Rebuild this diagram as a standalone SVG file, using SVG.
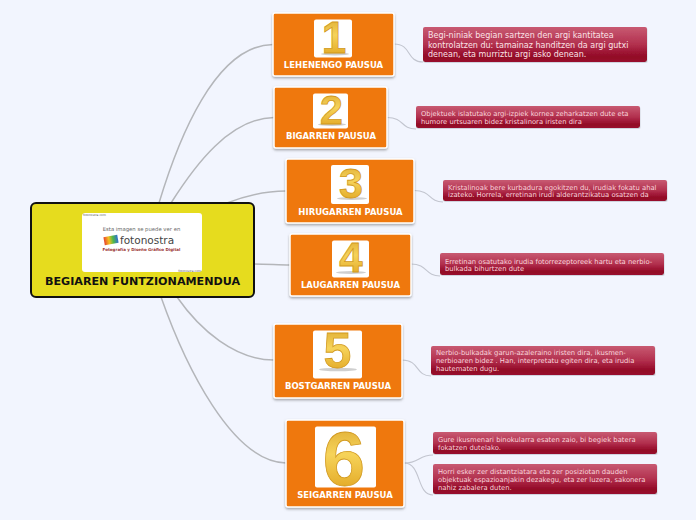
<svg xmlns="http://www.w3.org/2000/svg" width="696" height="520" viewBox="0 0 696 520">
<style>
text{font-family:"DejaVu Sans",Verdana,sans-serif}
.c{fill:none;stroke:#b4b6ba;stroke-width:1.5}
.d{fill:none;stroke:#c2c5cf;stroke-width:1.1}
.o{fill:#ef780e;stroke:#fff;stroke-width:1.5;filter:url(#s)}
.w{fill:#fff}
.t{fill:#fff;font-size:8.500px;font-weight:bold;text-anchor:middle}
.g{fill:url(#gold);stroke:#d29a20;stroke-width:.8;font-family:"Liberation Sans",sans-serif;font-weight:bold;text-anchor:middle}
.h{fill:#a8a8a8;opacity:.55}
.l{fill:url(#red);filter:url(#s2)}
.x{fill:#f9d5dc;font-size:6.800px}
.y{fill:#fbe3e7;font-size:8px}
</style>
<defs>
<linearGradient id="red" x1="0" y1="0" x2="0" y2="1"><stop offset="0" stop-color="#c85a72"/><stop offset=".5" stop-color="#b2304e"/><stop offset=".85" stop-color="#920725"/><stop offset="1" stop-color="#98102e"/></linearGradient>
<linearGradient id="gold" x1="0" y1="0" x2="0" y2="1"><stop offset="0" stop-color="#d9a32a"/><stop offset=".45" stop-color="#f6d35a"/><stop offset=".8" stop-color="#e6b02e"/><stop offset="1" stop-color="#bd8314"/></linearGradient>
<linearGradient id="logo" x1="0" y1="0" x2="1" y2="0"><stop offset="0" stop-color="#e8432c"/><stop offset=".35" stop-color="#f4c020"/><stop offset=".65" stop-color="#50b848"/><stop offset="1" stop-color="#3070d0"/></linearGradient>
<filter id="s" x="-10%" y="-10%" width="120%" height="120%"><feDropShadow dx="0" dy="1.500" stdDeviation="1" flood-color="#555" flood-opacity=".5"/></filter>
<filter id="s2" x="-5%" y="-10%" width="110%" height="125%"><feDropShadow dx="0.500" dy="1" stdDeviation=".4" flood-color="#b8bcc8" flood-opacity=".6"/></filter>
</defs>
<rect width="696" height="520" fill="#f2f5fe"/>
<g id="connectors">
<path class="c" d="M159 203C178 140 215 45 273 44.500"/>
<path class="c" d="M171 203C195 165 230 118 274 117.500"/>
<path class="c" d="M227 203C245 196 265 191 286 191"/>
<path class="c" d="M254 264C268 264 278 265 290 265"/>
<path class="c" d="M177 297C200 330 235 360 274 360"/>
<path class="c" d="M161 297C185 365 232 462 286 463"/>
<path class="d" d="M394 44C412 44 406 62 423 62"/>
<path class="d" d="M387 117.500C405 117.500 400 129 416 129"/>
<path class="d" d="M414 190.500C432 190.500 428 202 443 202"/>
<path class="d" d="M411 264C428 264 425 276 440 276"/>
<path class="d" d="M402 360C420 360 415 376 431 376"/>
<path class="d" d="M404 463C420 463 418 455 433 455"/>
<path class="d" d="M404 463C422 463 416 495 433 495"/>
</g>
<g id="central">
<rect x="31" y="203" width="223" height="94" rx="5" fill="#e6dc1e" stroke="#111" stroke-width="2"/>
<rect x="82" y="213" width="120" height="59" rx="3" class="w"/>
<text x="83" y="215.500" font-size="3" fill="#555">fotonostra.com</text>
<text x="141.500" y="231" font-size="5.300" fill="#666" text-anchor="middle">Esta imagen se puede ver en</text>
<rect x="104" y="236" width="14" height="8" fill="url(#logo)" transform="rotate(-10 111 240)"/>
<text x="120" y="244" font-size="10.500" fill="#444">fotonostra</text>
<text x="141.500" y="251" font-size="4" fill="#933" text-anchor="middle" font-weight="bold">Fotografía y Diseño Gráfico Digital</text>
<text x="201" y="271.500" font-size="3" fill="#555" text-anchor="end">fotonostra.com</text>
<text x="142.500" y="285" font-size="11.150" font-weight="bold" fill="#111" text-anchor="middle">BEGIAREN FUNTZIONAMENDUA</text>
</g>
<g id="n1">
<rect x="273" y="13" width="121" height="63" rx="2" class="o"/>
<rect x="314" y="19.500" width="38" height="38" rx="2" class="w"/>
<ellipse class="h" cx="335" cy="54" rx="14" ry="1.500"/>
<text class="g" x="334" y="53" font-size="44">1</text>
<text class="t" x="333.500" y="68">LEHENENGO PAUSUA</text>
</g>
<g id="n2">
<rect x="274" y="87" width="113" height="61" rx="2" class="o"/>
<rect x="313" y="93.500" width="35" height="35" rx="2" class="w"/>
<ellipse class="h" cx="332" cy="124.500" rx="14" ry="1.500"/>
<text class="g" x="331.500" y="124" font-size="41">2</text>
<text class="t" x="331" y="139">BIGARREN PAUSUA</text>
</g>
<g id="n3">
<rect x="286" y="159" width="128" height="64" rx="2" class="o"/>
<rect x="331" y="165" width="38" height="39" rx="2" class="w"/>
<ellipse class="h" cx="352" cy="198.500" rx="15" ry="1.500"/>
<text class="g" x="351" y="198" font-size="43">3</text>
<text class="t" x="350.500" y="215">HIRUGARREN PAUSUA</text>
</g>
<g id="n4">
<rect x="290" y="234" width="121" height="62" rx="2" class="o"/>
<rect x="332" y="240.500" width="37" height="37" rx="2" class="w"/>
<ellipse class="h" cx="351" cy="272.500" rx="15" ry="1.500"/>
<text class="g" x="351" y="272" font-size="42">4</text>
<text class="t" x="350.500" y="288">LAUGARREN PAUSUA</text>
</g>
<g id="n5">
<rect x="274" y="324" width="128" height="74" rx="2" class="o"/>
<rect x="313" y="330.500" width="49" height="48" rx="2" class="w"/>
<ellipse class="h" cx="338" cy="369.500" rx="19" ry="1.800"/>
<text class="g" x="337.500" y="368" font-size="50">5</text>
<text class="t" x="338" y="389">BOSTGARREN PAUSUA</text>
</g>
<g id="n6">
<rect x="286" y="420" width="118" height="87" rx="2" class="o"/>
<rect x="315" y="426.500" width="61" height="61" rx="2" class="w"/>
<text class="g" x="344" y="485" font-size="76">6</text>
<text class="t" x="345" y="498">SEIGARREN PAUSUA</text>
</g>
<g id="l1">
<rect x="423" y="27" width="224" height="35" rx="2" class="l"/>
<text class="y" x="428" y="38">Begi-niniak begian sartzen den argi kantitatea</text>
<text class="y" x="428" y="47.500">kontrolatzen du: tamainaz handitzen da argi gutxi</text>
<text class="y" x="428" y="57">denean, eta murriztu argi asko denean.</text>
</g>
<g id="l2">
<rect x="416" y="106" width="224" height="22" rx="2" class="l"/>
<text class="x" x="421" y="116">Objektuek islatutako argi-izpiek kornea zeharkatzen dute eta</text>
<text class="x" x="421" y="124">humore urtsuaren bidez kristalinora iristen dira</text>
</g>
<g id="l3">
<rect x="443" y="180" width="224" height="21" rx="2" class="l"/>
<text class="x" x="448" y="190">Kristalinoak bere kurbadura egokitzen du, irudiak fokatu ahal</text>
<text class="x" x="448" y="197">izateko. Horrela, erretinan irudi alderantzikatua osatzen da</text>
</g>
<g id="l4">
<rect x="440" y="253" width="224" height="22" rx="2" class="l"/>
<text class="x" x="445" y="264">Erretinan osatutako irudia fotorrezeptoreek hartu eta nerbio-</text>
<text class="x" x="445" y="271">bulkada bihurtzen dute</text>
</g>
<g id="l5">
<rect x="431" y="346" width="224" height="29" rx="2" class="l"/>
<text class="x" x="436" y="355">Nerbio-bulkadak garun-azaleraino iristen dira, ikusmen-</text>
<text class="x" x="436" y="363">nerbioaren bidez . Han, interpretatu egiten dira, eta irudia</text>
<text class="x" x="436" y="371">hautematen dugu.</text>
</g>
<g id="l6">
<rect x="433" y="432" width="224" height="22" rx="2" class="l"/>
<text class="x" x="438" y="442">Gure ikusmenari binokularra esaten zaio, bi begiek batera</text>
<text class="x" x="438" y="450">fokatzen dutelako.</text>
</g>
<g id="l7">
<rect x="433" y="464" width="224" height="30" rx="2" class="l"/>
<text class="x" x="438" y="474">Horri esker zer distantziatara eta zer posiziotan dauden</text>
<text class="x" x="438" y="482">objektuak espazioanjakin dezakegu, eta zer luzera, sakonera</text>
<text class="x" x="438" y="490">nahiz zabalera duten.</text>
</g>
</svg>
